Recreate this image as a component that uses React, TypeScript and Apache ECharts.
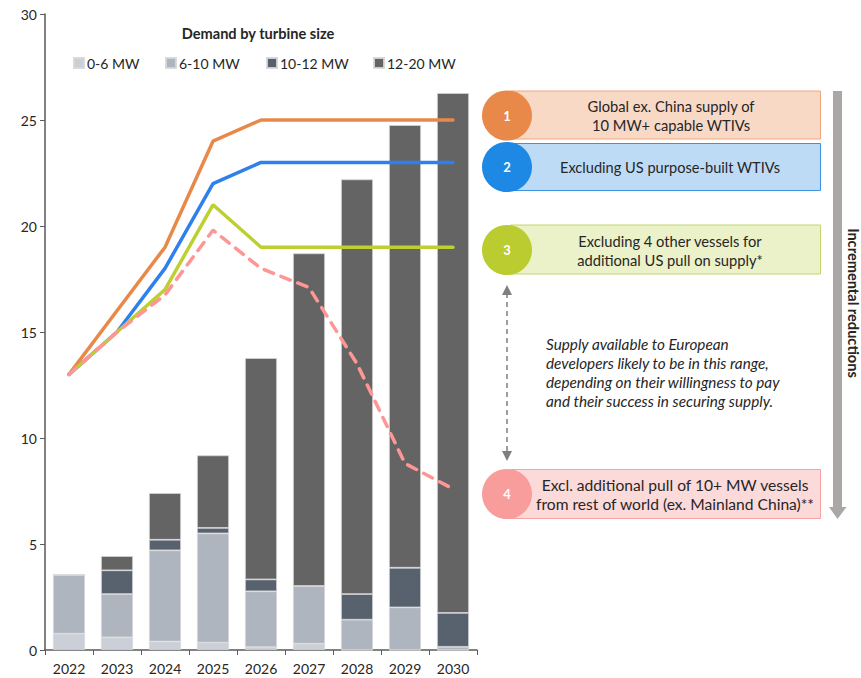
import React, { useEffect, useRef } from "react";
import * as echarts from "echarts";

const years = ["2022", "2023", "2024", "2025", "2026", "2027", "2028", "2029", "2030"];
const mw0to6 = [0.77, 0.6, 0.4, 0.35, 0.14, 0.3, 0, 0, 0];
const mw6to10 = [2.77, 2.04, 4.3, 5.15, 2.63, 2.72, 1.43, 2.01, 0.15];
const mw10to12 = [0, 1.12, 0.5, 0.26, 0.56, 0, 1.21, 1.87, 1.6];
const mw12to20 = [0, 0.67, 2.2, 3.42, 10.44, 15.69, 19.56, 20.88, 24.52];

const supplyGlobal = [13, 16, 19, 24, 25, 25, 25, 25, 25];
const supplyExUS = [13, 15, 18, 22, 23, 23, 23, 23, 23];
const supplyExOther = [13, 15, 17, 21, 19, 19, 19, 19, 19];
const supplyExRow = [13, 15, 16.75, 19.8, 18.0, 17.1, 13.5, 8.8, 7.6];

const yTicks = { min: 0, max: 30, interval: 5 };

const barNames = ["0-6 MW", "6-10 MW", "10-12 MW", "12-20 MW"];
const barColors = ["#CBD0D8", "#AEB5BF", "#58616E", "#646464"];
const barValues = [mw0to6, mw6to10, mw10to12, mw12to20];

const legendLeft = [73, 165, 266, 373];

const FONT = "Lato, 'Noto Sans', sans-serif";

const boxes = [
  { n: "1", y: 91, h: 48, cy: 115.5, fill: "#F8D9C6", stroke: "#F0A67C", circle: "#E8894A", text: "Global ex. China supply of\n10 MW+ capable WTIVs", tx: 671, fs: 14.7 },
  { n: "2", y: 143.5, h: 47, cy: 167, fill: "#BEDBF6", stroke: "#3D92E4", circle: "#1E88E5", text: "Excluding US purpose-built WTIVs", tx: 670, fs: 14.6 },
  { n: "3", y: 225, h: 49, cy: 250, fill: "#EBF1C8", stroke: "#C3D66A", circle: "#BACC2F", text: "Excluding 4 other vessels for\nadditional US pull on supply*", tx: 670, fs: 14.7 },
  { n: "4", y: 469.5, h: 49, cy: 494, fill: "#FDDADA", stroke: "#F5A3A3", circle: "#F99C9C", text: "Excl. additional pull of 10+ MW vessels\nfrom rest of world (ex. Mainland China)**", tx: 675, fs: 15.6 },
];

function txt(x: number, y: number, text: string, extra: any = {}, styleExtra: any = {}) {
  return {
    type: "text",
    x,
    y,
    ...extra,
    style: {
      text,
      fill: "#262626",
      fontFamily: FONT,
      fontSize: 13,
      align: "center",
      textAlign: "center",
      verticalAlign: "middle",
      textVerticalAlign: "middle",
      lineHeight: 19,
      ...styleExtra,
    },
  };
}

export default function App() {
  const ref = useRef<HTMLDivElement>(null);

  useEffect(() => {
    if (!ref.current) return;
    const chart = echarts.init(ref.current, undefined, { renderer: "svg" });

    const graphics: any[] = [];
    graphics.push(txt(258, 33, "Demand by turbine size", {}, { fontWeight: "bold", fontSize: 14.6 }));

    boxes.forEach((b) => {
      graphics.push({
        type: "rect",
        shape: { x: 510.5, y: b.y, width: 310, height: b.h },
        style: { fill: b.fill, stroke: b.stroke, lineWidth: 1 },
      });
      graphics.push({
        type: "circle",
        shape: { cx: 507, cy: b.cy, r: 25 },
        style: { fill: b.circle },
      });
      graphics.push(txt(507, b.cy, b.n, {}, { fill: "#ffffff", fontWeight: "bold", fontSize: 13 }));
      graphics.push(txt(b.tx, b.cy, b.text, {}, { fontSize: b.fs }));
    });

    // italic note
    graphics.push(
      txt(
        546,
        372,
        "Supply available to European\ndevelopers likely to be in this range,\ndepending on their willingness to pay\nand their success in securing supply.",
        {},
        { align: "left", textAlign: "left", fontStyle: "italic", fontSize: 15.3, lineHeight: 19 }
      )
    );

    // dashed double arrow
    graphics.push({
      type: "line",
      shape: { x1: 507, y1: 293, x2: 507, y2: 452 },
      style: { stroke: "#7F7F7F", lineWidth: 1.5, lineDash: [5, 4] },
    });
    graphics.push({
      type: "polygon",
      shape: { points: [[507, 285], [502, 295], [512, 295]] },
      style: { fill: "#7F7F7F" },
    });
    graphics.push({
      type: "polygon",
      shape: { points: [[507, 461], [502, 451], [512, 451]] },
      style: { fill: "#7F7F7F" },
    });

    // gray big arrow
    graphics.push({
      type: "rect",
      shape: { x: 833, y: 91, width: 9, height: 417 },
      style: { fill: "#ABA7A7" },
    });
    graphics.push({
      type: "polygon",
      shape: { points: [[829, 507], [846.5, 507], [837.5, 519]] },
      style: { fill: "#ABA7A7" },
    });
    graphics.push(
      txt(853, 303, "Incremental reductions", { rotation: -Math.PI / 2 }, { fontWeight: "bold", fontSize: 14.6 })
    );

    const series: any[] = barNames.map((name, i) => ({
      name,
      type: "bar",
      stack: "demand",
      barWidth: 32,
      data: barValues[i],
      itemStyle: { color: barColors[i], borderColor: "rgba(215,215,215,0.9)", borderWidth: 0.8 },
      z: 2,
    }));

    const lineDefs = [
      { name: "Global", data: supplyGlobal, color: "#E8894A", dash: "solid" },
      { name: "ExUS", data: supplyExUS, color: "#2F80ED", dash: "solid" },
      { name: "ExOther", data: supplyExOther, color: "#BDD030", dash: "solid" },
      { name: "ExRow", data: supplyExRow, color: "#FF9696", dash: [10, 8] },
    ];
    lineDefs.forEach((l, i) => {
      series.push({
        name: l.name,
        type: "line",
        data: l.data,
        symbol: "none",
        z: 3 + i,
        lineStyle: { color: l.color, width: 3.5, type: l.dash, cap: "round" },
      });
    });

    const legends = barNames.map((name, i) => ({
      data: [name],
      left: legendLeft[i],
      top: 56,
      padding: 0,
      icon: "rect",
      itemWidth: 10,
      itemHeight: 10,
      selectedMode: false,
      textStyle: { fontFamily: FONT, fontSize: 14, color: "#262626", padding: [0, 0, 0, -2] },
    }));

    chart.setOption({
      animation: false,
      textStyle: { fontFamily: FONT },
      grid: { left: 45, right: 384, top: 14, bottom: 28, containLabel: false },
      legend: legends,
      xAxis: {
        type: "category",
        data: years,
        axisLine: { lineStyle: { color: "#595959", width: 1.5 } },
        axisTick: { show: true, length: 5, lineStyle: { color: "#595959" } },
        axisLabel: { color: "#262626", fontSize: 14, fontFamily: FONT, margin: 11 },
      },
      yAxis: {
        type: "value",
        min: yTicks.min,
        max: yTicks.max,
        interval: yTicks.interval,
        splitLine: { show: false },
        axisLine: { show: true, lineStyle: { color: "#595959", width: 1.5 } },
        axisTick: { show: true, length: 5, lineStyle: { color: "#595959" } },
        axisLabel: { color: "#262626", fontSize: 14, fontFamily: FONT, margin: 8 },
      },
      series,
      graphic: graphics,
    });

    return () => chart.dispose();
  }, []);

  return (
    <div
      ref={ref}
      style={{ position: "absolute", left: 0, top: 0, width: 861, height: 678, background: "#ffffff" }}
    />
  );
}
